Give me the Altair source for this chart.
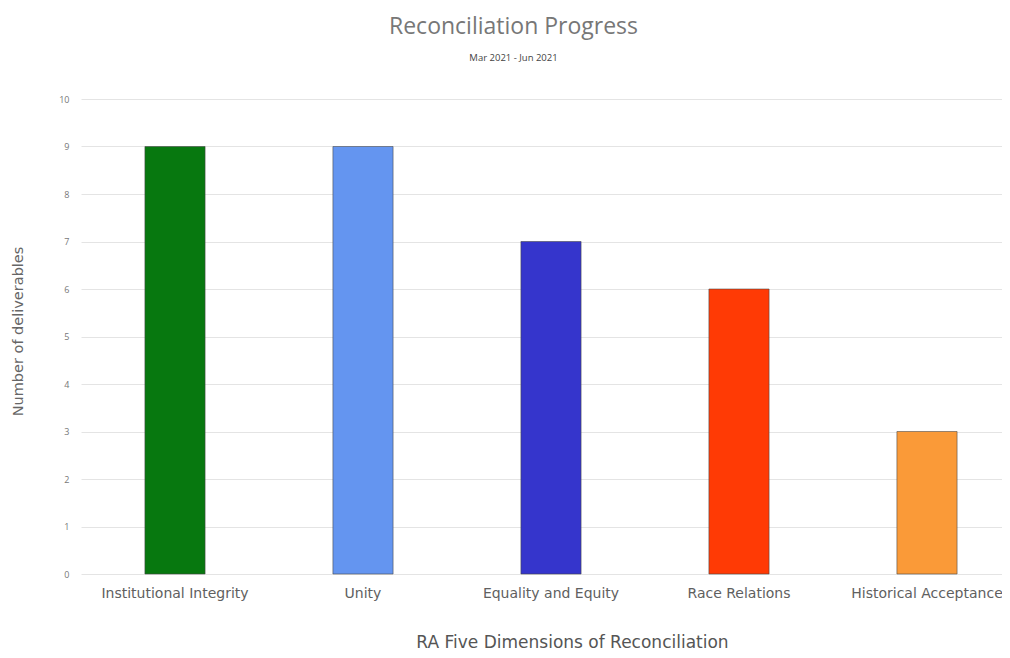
import altair as alt
import pandas as pd

categories = ["Institutional Integrity", "Unity", "Equality and Equity", "Race Relations", "Historical Acceptance"]
values = [9, 9, 7, 6, 3]
colors = ["#07780f", "#6495f0", "#3535cc", "#ff3a05", "#fa9a38"]

df = pd.DataFrame({"dimension": categories, "count": values, "color": colors})

chart = alt.Chart(df).mark_bar(
    stroke="#444444", strokeOpacity=0.55, strokeWidth=1
).encode(
    x=alt.X("dimension:N", sort=categories,
            scale=alt.Scale(range=[0, 940], paddingInner=0.68, paddingOuter=0.34),
            axis=alt.Axis(title="RA Five Dimensions of Reconciliation", labelAngle=0,
                          labelFontSize=14, labelColor="#606060", labelPadding=12,
                          labelFont="DejaVu Sans", domain=False, ticks=False,
                          titleFont="DejaVu Sans", titleFontSize=17, titleFontWeight="normal",
                          titleColor="#555555", titleX=491, titleY=73, titleBaseline="alphabetic",
                          labelOverlap=False, labelLimit=300)),
    y=alt.Y("count:Q", scale=alt.Scale(domain=[0, 10], nice=False),
            axis=alt.Axis(title="Number of deliverables", values=list(range(0, 11)),
                          labelFontSize=9, labelColor="#777777", labelPadding=12,
                          labelFont="Open Sans", domain=False, ticks=False,
                          gridColor="#e4e4e4", gridWidth=1,
                          titleFont="DejaVu Sans", titleFontSize=14.5, titleFontWeight="normal",
                          titleColor="#666666", titleX=-56, titleY=232)),
    color=alt.Color("color:N", scale=None, legend=None),
).properties(
    width=921, height=475,
    autosize=alt.AutoSizeParams(type="none"),
    padding={"left": 73, "top": 91, "right": 0, "bottom": 76},
    title=alt.TitleParams(
        text="Reconciliation Progress", subtitle="Mar 2021 - Jun 2021",
        font="Open Sans", fontSize=23, fontWeight="normal", color="#777777",
        subtitleFont="Open Sans", subtitleFontSize=9.5, subtitleColor="#444444",
        subtitlePadding=14, anchor="middle", offset=33, dx=-28
    )
).configure_view(stroke=None)

chart.save("out.html", embed_options={"renderer": "svg", "actions": False})
